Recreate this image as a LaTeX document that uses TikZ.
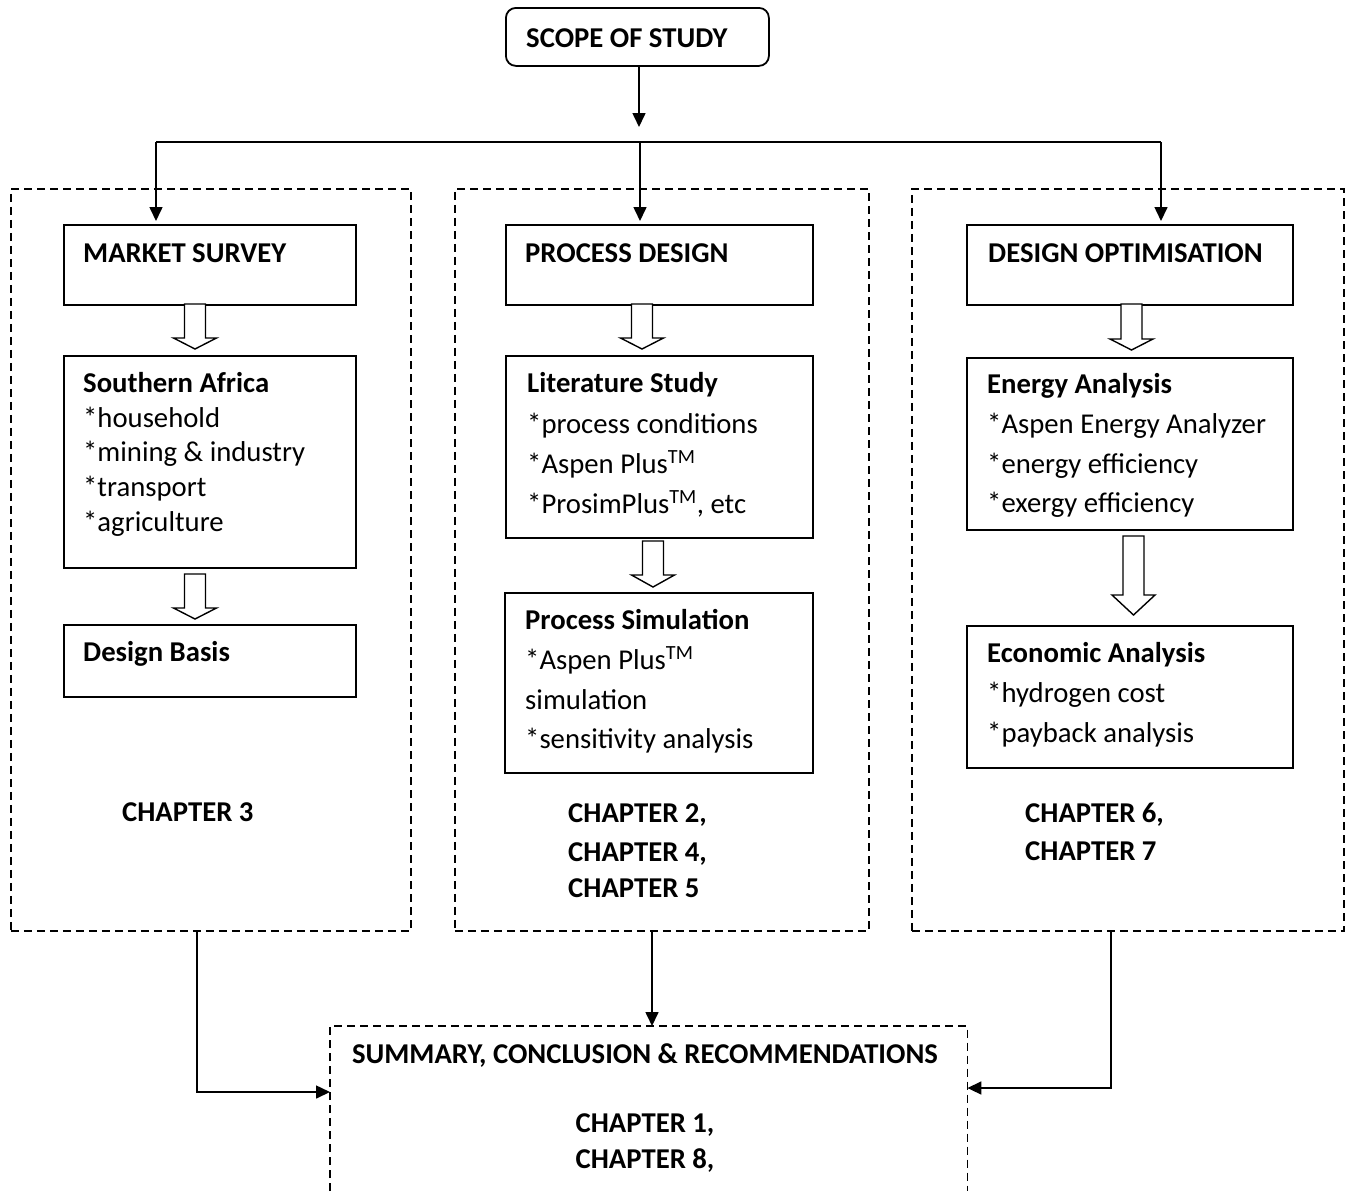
\documentclass[tikz,border=0pt]{standalone}
\usepackage{fontspec}
\setmainfont{Carlito}
\usetikzlibrary{arrows.meta}
\begin{document}
\begin{tikzpicture}[x=1pt,y=-1pt,
  box/.style={draw, line width=1.8pt, inner sep=0pt, anchor=north west},
  dbox/.style={draw, line width=1.7pt, dash pattern=on 8pt off 5pt, inner sep=0pt, anchor=north west},
  arr/.style={line width=1.6pt, -{Triangle[length=14pt,width=13pt]}},
  plain/.style={line width=1.6pt},
  hollow/.style={draw, line width=1.4pt, fill=white, line join=miter},
  txt/.style={anchor=base west, inner sep=0pt, font=\fontsize{28.7}{34}\selectfont},
  btxt/.style={anchor=base west, inner sep=0pt, font=\fontsize{28.7}{34}\selectfont\bfseries},
  ctxt/.style={anchor=base, inner sep=0pt, font=\fontsize{28.7}{34}\selectfont\bfseries}]
\newcommand\hollowarrow[4]{%
  \draw[hollow] ({#1-10.5},#2) -- ({#1+10.5},#2) -- ({#1+10.5},#3) -- ({#1+21.5},#3)
    -- (#1,#4) -- ({#1-21.5},#3) -- ({#1-10.5},#3) -- cycle;}
\useasboundingbox[fill=white] (0,0) rectangle (1351,1191);

% top box
\node[box, rounded corners=10pt, minimum width=263pt, minimum height=58pt] (scope) at (505,7) {};
\node[btxt] (tscope) at (526,47) {SCOPE OF STUDY};

% dashed group boxes
\node[dbox, minimum width=400pt, minimum height=742pt] (lbox) at (10,188) {};
\node[dbox, minimum width=414pt, minimum height=742pt] (mbox) at (454,188) {};
\node[dbox, minimum width=432pt, minimum height=742pt] (rbox) at (911,188) {};

% inner boxes
\node[box, minimum width=292pt, minimum height=80pt] (ms) at (63,224) {};
\node[box, minimum width=292pt, minimum height=212pt] (sa) at (63,355) {};
\node[box, minimum width=292pt, minimum height=72pt] (db) at (63,624) {};
\node[box, minimum width=307pt, minimum height=80pt] (pd) at (505,224) {};
\node[box, minimum width=307pt, minimum height=182pt] (ls) at (505,355) {};
\node[box, minimum width=308pt, minimum height=180pt] (ps) at (504,592) {};
\node[box, minimum width=326pt, minimum height=80pt] (do) at (966,224) {};
\node[box, minimum width=326pt, minimum height=172pt] (ea) at (966,357) {};
\node[box, minimum width=326pt, minimum height=142pt] (ec) at (966,625) {};

% summary box (open at the bottom)
\node[inner sep=0pt, anchor=north west, minimum width=637pt, minimum height=300pt] (sum) at (330,1026) {};
\draw[line width=1.7pt, dash pattern=on 8pt off 5pt] (sum.west |- 0,1191) -- (sum.north west) -- (sum.north east) -- (sum.east |- 0,1191);

% connectors
\coordinate (stip) at (639,127);
\draw[arr] (scope.south -| stip) -- (stip);
\coordinate (busL) at (156,142);
\coordinate (busM) at (640,142);
\coordinate (busR) at (1161,142);
\draw[plain] (busL) -- (busR);
\draw[arr, shorten >=3pt] (busL) -- (ms.north -| busL);
\draw[arr, shorten >=3pt] (busM) -- (pd.north -| busM);
\draw[arr, shorten >=3pt] (busR) -- (do.north -| busR);

\draw[arr] (lbox.south -| 197,0) |- (sum.west |- 0,1092);
\draw[arr] (mbox.south -| 652,0) -- (sum.north -| 652,0);
\draw[arr] (rbox.south -| 1111,0) |- (sum.east |- 0,1088);

% hollow arrows
\hollowarrow{195}{304}{338}{349}
\hollowarrow{195}{574}{608}{619}
\hollowarrow{642}{304}{338}{349}
\hollowarrow{653}{541}{575}{587}
\hollowarrow{1131.5}{304}{339}{350}
\hollowarrow{1133.5}{536}{595}{615}

% left column texts
\node[btxt] (t1) at (83,262) {MARKET SURVEY};
\node[btxt] (t2) at (83,392) {Southern Africa};
\node[txt] (t3) at (83,427) {*household};
\node[txt] (t4) at (83,461) {*mining \& industry};
\node[txt] (t5) at (83,496) {*transport};
\node[txt] (t6) at (83,531) {*agriculture};
\node[btxt] (t7) at (83,661) {Design Basis};
\node[btxt] (t8) at (122,821) {CHAPTER 3};

% middle column texts
\node[btxt] (m1) at (525,262) {PROCESS DESIGN};
\node[btxt] (m2) at (527,392) {Literature Study};
\node[txt] (m3) at (527,433) {*process conditions};
\node[txt] (m4) at (527,473) {*Aspen Plus\textsuperscript{TM}};
\node[txt] (m5) at (527,513) {*ProsimPlus\textsuperscript{TM}, etc};
\node[btxt] (m6) at (525,629) {Process Simulation};
\node[txt] (m7) at (525,669) {*Aspen Plus\textsuperscript{TM}};
\node[txt] (m8) at (525,709) {simulation};
\node[txt] (m9) at (525,748) {*sensitivity analysis};
\node[btxt] (m10) at (568,822) {CHAPTER 2,};
\node[btxt] (m11) at (568,861) {CHAPTER 4,};
\node[btxt] (m12) at (568,897) {CHAPTER 5};

% right column texts
\node[btxt] (r1) at (988,262) {DESIGN OPTIMISATION};
\node[btxt] (r2) at (987,393) {Energy Analysis};
\node[txt] (r3) at (987,433) {*Aspen Energy Analyzer};
\node[txt] (r4) at (987,473) {*energy efficiency};
\node[txt] (r5) at (987,512) {*exergy efficiency};
\node[btxt] (r6) at (987,662) {Economic Analysis};
\node[txt] (r7) at (987,702) {*hydrogen cost};
\node[txt] (r8) at (987,742) {*payback analysis};
\node[btxt] (r9) at (1025,822) {CHAPTER 6,};
\node[btxt] (r10) at (1025,860) {CHAPTER 7};

% summary texts
\node[ctxt] (s1) at (645,1063) {SUMMARY, CONCLUSION \& RECOMMENDATIONS};
\node[ctxt] (s2) at (645,1132) {CHAPTER 1,};
\node[ctxt] (s3) at (645,1168) {CHAPTER 8,};
\end{tikzpicture}
\end{document}
